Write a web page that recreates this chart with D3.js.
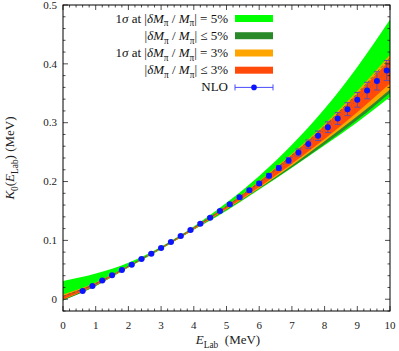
<!DOCTYPE html>
<html><head><meta charset="utf-8">
<script src="https://cdn.jsdelivr.net/npm/d3@7"></script>
<style>body{margin:0;background:#fff}svg{display:block}</style>
</head><body><svg id="c" width="399" height="351" font-family="'Liberation Serif', 'DejaVu Serif', serif"></svg>
<script>
// ---- data ----
const bandE = [0,1,2,3,4,5,6,7,8,9,10];
const green5Upper = [0.031,0.0436,0.0618,0.0893,0.1238,0.1638,0.2095,0.2624,0.3235,0.3948,0.4755];
const green5Lower = [-0.002,0.0226,0.0538,0.0851,0.118,0.1505,0.1863,0.2234,0.2615,0.3008,0.3435];
const dark5Upper = [0.005,0.0266,0.0563,0.0876,0.1215,0.158,0.1988,0.2444,0.2945,0.3498,0.4105];
const dark5Lower = [-0.002,0.0226,0.0543,0.0856,0.1185,0.152,0.1878,0.2244,0.2635,0.3048,0.3505];
const orange3Upper = [0.008,0.0286,0.0568,0.0881,0.122,0.159,0.2008,0.2474,0.2975,0.3538,0.4155];
const orange3Lower = [-0.001,0.0236,0.0548,0.0861,0.119,0.153,0.1888,0.2274,0.2685,0.3108,0.3565];
const red3Upper = [0.006,0.0276,0.0565,0.0878,0.1218,0.1585,0.1998,0.2454,0.2945,0.3488,0.407];
const red3Lower = [0.000,0.0241,0.055,0.0863,0.1195,0.154,0.1908,0.2304,0.2725,0.3178,0.3665];
const nloE = [0.6,0.9,1.2,1.5,1.8,2.1,2.4,2.7,3.0,3.3,3.6,3.9,4.2,4.5,4.8,5.1,5.4,5.7,6.0,6.3,6.6,6.9,7.2,7.5,7.8,8.1,8.4,8.7,9.0,9.3,9.6,9.9];
const nloK = [0.0141,0.0226,0.0317,0.0407,0.0498,0.0588,0.0684,0.0775,0.0871,0.0973,0.1075,0.1176,0.1284,0.1386,0.1499,0.1612,0.1731,0.1850,0.1968,0.2098,0.2229,0.2359,0.2494,0.2636,0.2777,0.2924,0.3071,0.3230,0.3388,0.3546,0.3710,0.3886];
const nloErr = [0.0005,0.0005,0.0006,0.0007,0.0008,0.0009,0.001,0.0011,0.0012,0.0013,0.0014,0.0015,0.0017,0.0019,0.0021,0.0024,0.0027,0.003,0.0034,0.0038,0.0043,0.005,0.006,0.007,0.008,0.009,0.010,0.011,0.0125,0.014,0.0155,0.017];
const xTicks = [0,1,2,3,4,5,6,7,8,9,10];
const yTicks = [0,0.1,0.2,0.3,0.4,0.5];
const yTickLabels = ["0","0.1","0.2","0.3","0.4","0.5"];

// ---- layout ----
const L=63, R=390, T=5, B=311;
const svg = d3.select("#c");
const x = d3.scaleLinear().domain([0,10]).range([L,R]);
const y = d3.scaleLinear().domain([-0.02,0.5]).range([B,T]);

svg.append("defs").append("clipPath").attr("id","pc")
  .append("rect").attr("x",L).attr("y",T).attr("width",R-L).attr("height",B-T);
const g = svg.append("g").attr("clip-path","url(#pc)");

function band(up, lo, color){
  const data = bandE.map((e,i)=>({e, u:up[i], l:lo[i]}));
  g.append("path").datum(data)
    .attr("d", d3.area().x(d=>x(d.e)).y0(d=>y(d.l)).y1(d=>y(d.u)).curve(d3.curveMonotoneX))
    .attr("fill", color).attr("stroke","none");
}
band(green5Upper, green5Lower, "#00ff00");
band(dark5Upper, dark5Lower, "#2a8a2a");
band(orange3Upper, orange3Lower, "#ffa500");
band(red3Upper, red3Lower, "#ff4a0a");

g.append("path").datum(bandE.map((e,i)=>({e, v:dark5Upper[i]})))
  .attr("d", d3.line().x(d=>x(d.e)).y(d=>y(d.v)).curve(d3.curveMonotoneX))
  .attr("fill","none").attr("stroke","#2a7a2a").attr("stroke-width",0.8).attr("stroke-dasharray","3,2");

const pts = nloE.map((e,i)=>({e, k:nloK[i], s:nloErr[i]}));
g.append("path").datum(pts)
  .attr("d", d3.line().x(d=>x(d.e)).y(d=>y(d.k)))
  .attr("fill","none").attr("stroke","#6a4aa8").attr("stroke-width",0.8).attr("stroke-dasharray","1,2");
const eb = g.append("g").attr("stroke","#6a4aa8").attr("stroke-width",1);
pts.forEach(d=>{
  eb.append("line").attr("x1",x(d.e)).attr("x2",x(d.e)).attr("y1",y(d.k-d.s)).attr("y2",y(d.k+d.s));
  [d.k-d.s, d.k+d.s].forEach(v=>eb.append("line").attr("x1",x(d.e)-3).attr("x2",x(d.e)+3).attr("y1",y(v)).attr("y2",y(v)));
});
g.selectAll("circle.p").data(pts).join("circle").attr("class","p")
  .attr("cx",d=>x(d.e)).attr("cy",d=>y(d.k)).attr("r",3).attr("fill","#0a14ff");

// ---- axes (ticks on all sides, inward) ----
const ax = svg.append("g");
const xMinor = d3.range(0,10.001,0.2);
const yMinor = d3.range(-0.02,0.5001,0.02);
xMinor.forEach(v=>{
  const major = xTicks.some(t=>Math.abs(t-v)<1e-6);
  const len = major?5:2.5;
  ax.append("line").attr("x1",x(v)).attr("x2",x(v)).attr("y1",B).attr("y2",B-len).attr("stroke","#222").attr("stroke-width",0.8);
  ax.append("line").attr("x1",x(v)).attr("x2",x(v)).attr("y1",T).attr("y2",T+len).attr("stroke","#222").attr("stroke-width",0.8);
});
yMinor.forEach(v=>{
  const major = yTicks.some(t=>Math.abs(t-v)<1e-6);
  const len = major?5:2.5;
  ax.append("line").attr("y1",y(v)).attr("y2",y(v)).attr("x1",L).attr("x2",L+len).attr("stroke","#222").attr("stroke-width",0.8);
  ax.append("line").attr("y1",y(v)).attr("y2",y(v)).attr("x1",R).attr("x2",R-len).attr("stroke","#222").attr("stroke-width",0.8);
});
svg.append("rect").attr("x",L).attr("y",T).attr("width",R-L).attr("height",B-T)
  .attr("fill","none").attr("stroke","#000").attr("stroke-width",1);

xTicks.forEach(t=>svg.append("text").attr("x",x(t)).attr("y",329).attr("text-anchor","middle")
  .attr("font-size",11).attr("fill","#222").text(t));
yTicks.forEach((t,i)=>svg.append("text").attr("x",57).attr("y",y(t)+3.8).attr("text-anchor","end")
  .attr("font-size",11).attr("fill","#222").text(yTickLabels[i]));

function rich(sel, segs, fs){
  let shifted = 0;
  segs.forEach(([txt, st])=>{
    const ts = sel.append("tspan").text(txt);
    if (st.includes("i")) ts.attr("font-style","italic");
    if (st.includes("s")) {
      ts.attr("font-size", fs*0.72).attr("dy", (fs*0.3)-shifted); shifted = fs*0.3;
    } else {
      if (shifted) { ts.attr("dy", -shifted); shifted = 0; }
    }
  });
}

const xl = svg.append("text").attr("x",228).attr("y",344).attr("text-anchor","middle").attr("font-size",13).attr("fill","#222");
rich(xl, [["E","i"],["Lab","s"],["\u00a0\u00a0(MeV)",""]], 13);
const yl = svg.append("text").attr("transform","translate(14,158) rotate(-90)").attr("text-anchor","middle").attr("font-size",13).attr("fill","#222");
rich(yl, [["K","i"],["0","s"],["(",""],["E","i"],["Lab","s"],[") (MeV)",""]], 13);

// ---- legend ----
const legendRows = [
  {segs:[["1",""],["σ","i"],[" at |",""],["δM","i"],["π","s"],[" / ",""],["M","i"],["π","s"],["| = 5%",""]], color:"#00ff00"},
  {segs:[["|",""],["δM","i"],["π","s"],[" / ",""],["M","i"],["π","s"],["| ≤ 5%",""]], color:"#2a8a2a"},
  {segs:[["1",""],["σ","i"],[" at |",""],["δM","i"],["π","s"],[" / ",""],["M","i"],["π","s"],["| = 3%",""]], color:"#ffa500"},
  {segs:[["|",""],["δM","i"],["π","s"],[" / ",""],["M","i"],["π","s"],["| ≤ 3%",""]], color:"#ff4a0a"},
  {segs:[["NLO",""]], color:null}
];
const rowY = [18.5, 35.7, 53, 70.2, 87.4];
legendRows.forEach((r,i)=>{
  const t = svg.append("text").attr("x",228).attr("y",rowY[i]+4).attr("text-anchor","end").attr("font-size",13).attr("fill","#111");
  rich(t, r.segs, 13);
  if (r.color) {
    svg.append("rect").attr("x",235).attr("y",rowY[i]-3.5).attr("width",38).attr("height",7).attr("fill",r.color);
  } else {
    const yy = rowY[i];
    svg.append("line").attr("x1",235).attr("x2",273).attr("y1",yy).attr("y2",yy).attr("stroke","#4a4aff").attr("stroke-width",1);
    [235,273].forEach(xx=>svg.append("line").attr("x1",xx).attr("x2",xx).attr("y1",yy-3).attr("y2",yy+3).attr("stroke","#4a4aff").attr("stroke-width",1));
    svg.append("circle").attr("cx",254).attr("cy",yy).attr("r",2.8).attr("fill","#0a14ff");
  }
});
</script></body></html>
